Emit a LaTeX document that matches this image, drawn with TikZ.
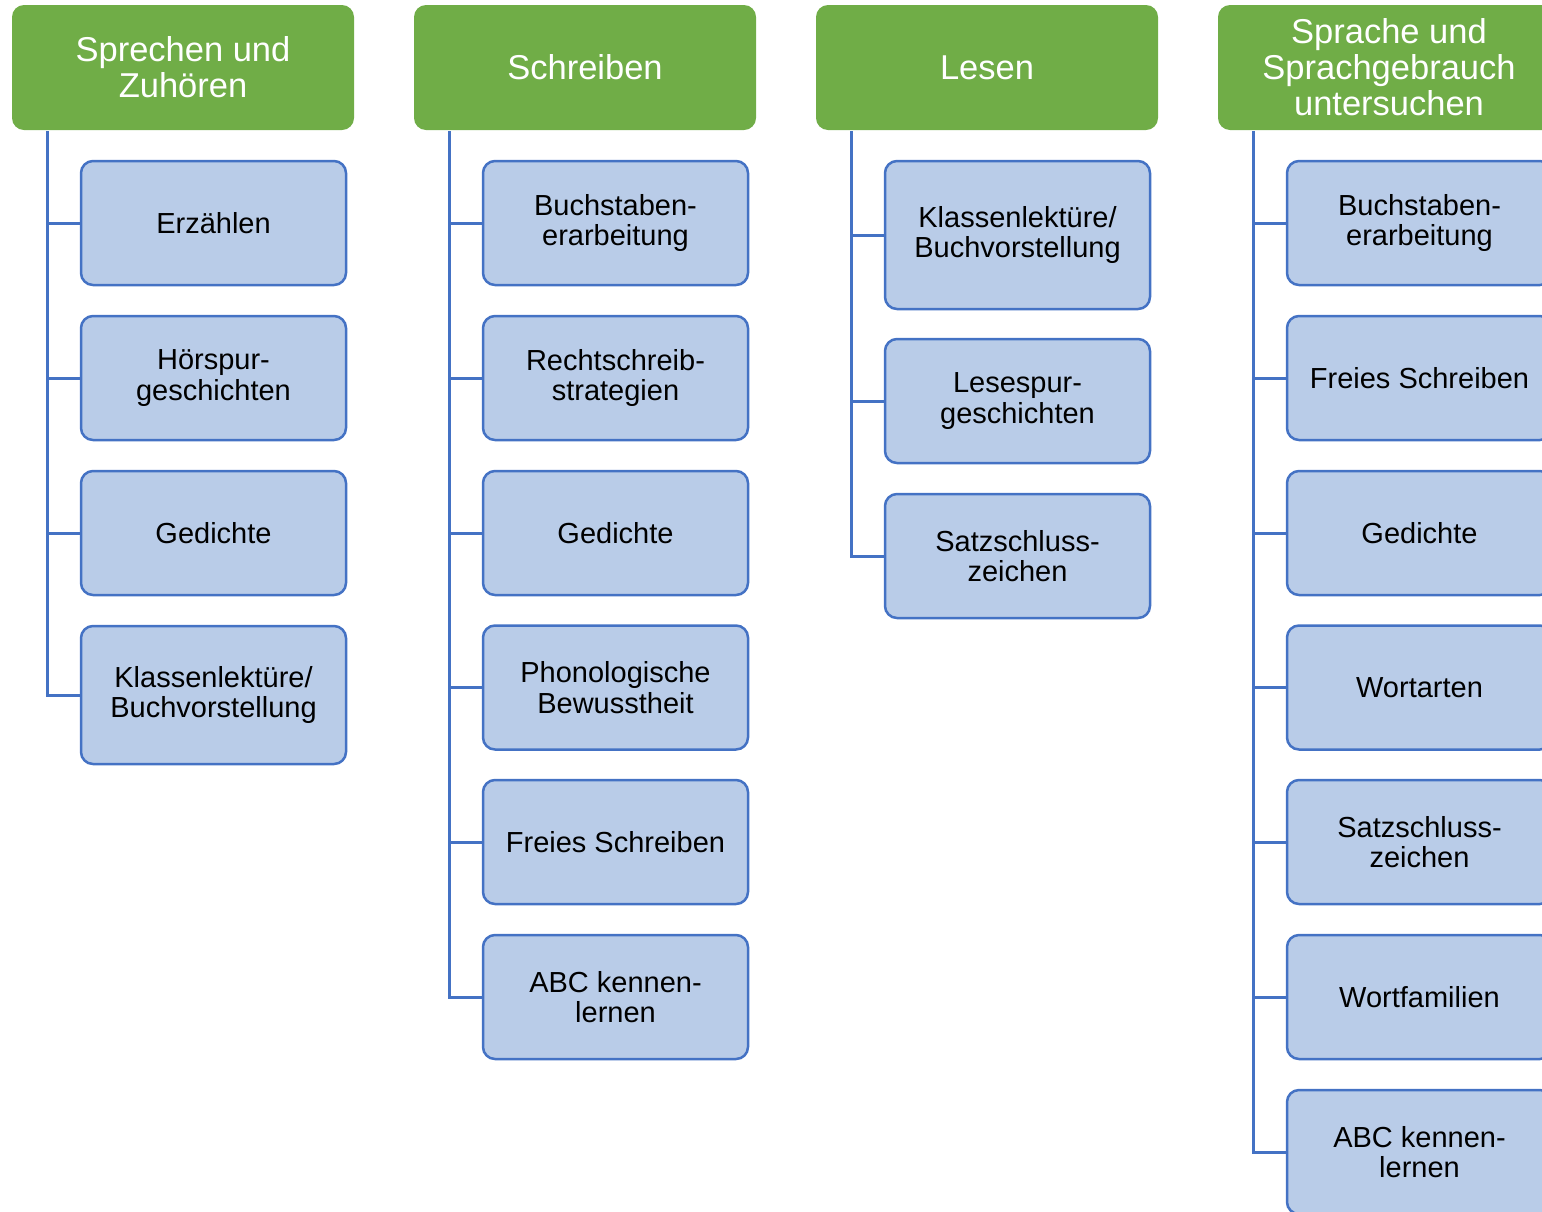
\documentclass[tikz,border=0pt]{standalone}
\usepackage{fontspec}
\setmainfont{Liberation Sans}
\definecolor{hdrgreen}{HTML}{70AD47}
\definecolor{boxblue}{HTML}{B9CCE8}
\definecolor{linblue}{HTML}{4472C4}
\begin{document}
\begin{tikzpicture}[x=1pt,y=-1pt,
  hdr/.style={rectangle, rounded corners=12pt, fill=hdrgreen, text=white,
    minimum width=342pt, minimum height=125pt, inner sep=0pt, align=center,
    font=\fontsize{34.5}{36}\selectfont},
  item/.style={rectangle, rounded corners=12pt, fill=boxblue, draw=linblue,
    line width=2.5pt, minimum width=265pt, minimum height=124pt, inner sep=0pt,
    align=center, font=\fontsize{29}{30.5}\selectfont},
  conn/.style={draw=linblue, line width=3pt}]
\useasboundingbox (0,0) rectangle (1542,1211);
\clip (0,0) rectangle (1542,1211);
% headers
\node[hdr] (h1) at (183,67.5) {Sprechen und\\Zuhören};
\node[hdr] (h2) at (585,67.5) {Schreiben};
\node[hdr] (h3) at (987,67.5) {Lesen};
\node[hdr] (h4) at (1389,67.5) {Sprache und\\Sprachgebrauch\\untersuchen};
% column 1
\node[item] (a1) at (213.5,223) {Erzählen};
\node[item] (a2) at (213.5,378) {Hörspur-\\geschichten};
\node[item] (a3) at (213.5,533) {Gedichte};
\node[item, minimum height=138pt] (a4) at (213.5,695) {Klassenlektüre/\\Buchvorstellung};
% column 2
\node[item] (b1) at (615.5,223) {Buchstaben-\\erarbeitung};
\node[item] (b2) at (615.5,378) {Rechtschreib-\\strategien};
\node[item] (b3) at (615.5,533) {Gedichte};
\node[item] (b4) at (615.5,687.5) {Phonologische\\Bewusstheit};
\node[item] (b5) at (615.5,842) {Freies Schreiben};
\node[item] (b6) at (615.5,997) {ABC kennen-\\lernen};
% column 3
\node[item, minimum height=148pt] (c1) at (1017.5,235) {Klassenlektüre/\\Buchvorstellung};
\node[item] (c2) at (1017.5,401) {Lesespur-\\geschichten};
\node[item] (c3) at (1017.5,556) {Satzschluss-\\zeichen};
% column 4
\node[item] (d1) at (1419.5,223) {Buchstaben-\\erarbeitung};
\node[item] (d2) at (1419.5,378) {Freies Schreiben};
\node[item] (d3) at (1419.5,533) {Gedichte};
\node[item] (d4) at (1419.5,687.5) {Wortarten};
\node[item] (d5) at (1419.5,842) {Satzschluss-\\zeichen};
\node[item] (d6) at (1419.5,997) {Wortfamilien};
\node[item] (d7) at (1419.5,1152) {ABC kennen-\\lernen};
% trunk tops
\coordinate (t1) at (47,131);
\coordinate (t2) at (449,131);
\coordinate (t3) at (851,131);
\coordinate (t4) at (1253,131);
% connectors
\path[conn] (t1) |- (a4.west);
\foreach \n in {a1,a2,a3} \path[conn] (t1 |- \n.west) -- (\n.west);
\path[conn] (t2) |- (b6.west);
\foreach \n in {b1,b2,b3,b4,b5} \path[conn] (t2 |- \n.west) -- (\n.west);
\path[conn] (t3) |- (c3.west);
\foreach \n in {c1,c2} \path[conn] (t3 |- \n.west) -- (\n.west);
\path[conn] (t4) |- (d7.west);
\foreach \n in {d1,d2,d3,d4,d5,d6} \path[conn] (t4 |- \n.west) -- (\n.west);
\end{tikzpicture}
\end{document}
